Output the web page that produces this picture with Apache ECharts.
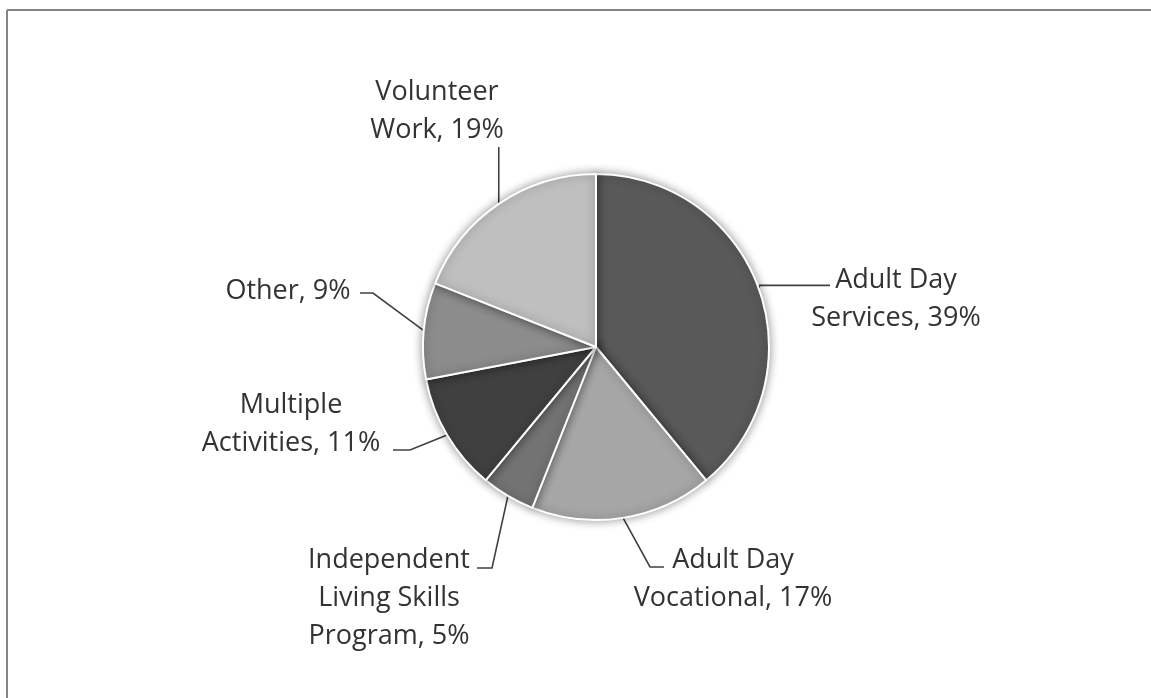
<!DOCTYPE html>
<html>
<head>
<meta charset="utf-8">
<script src="https://cdn.jsdelivr.net/npm/echarts@6/dist/echarts.min.js"></script>
<style>
html,body{margin:0;padding:0;background:#fff;}
#chart{width:1151px;height:698px;}
</style>
</head>
<body>
<div id="chart"></div>
<script>
// ---- data ----
const categories = ['Adult Day Services', 'Adult Day Vocational', 'Independent Living Skills Program', 'Multiple Activities', 'Other', 'Volunteer Work'];
const values = [39, 17, 5, 11, 9, 19];
const labelTexts = ['Adult Day\nServices, 39%', 'Adult Day\nVocational, 17%', 'Independent\nLiving Skills\nProgram, 5%', 'Multiple\nActivities, 11%', 'Other, 9%', 'Volunteer\nWork, 19%'];
const colors = ['#595959', '#a6a6a6', '#737373', '#404040', '#8c8c8c', '#bfbfbf'];

// ---- label layout (positions only) ----
const labelPos = [
  {x: 896, y: 299, pts: [['e', 284], [830, 284]]},
  {x: 733, y: 579, pts: [[650, 567], [664, 567]]},
  {x: 389, y: 598, pts: [[492, 568], [477, 568]]},
  {x: 291, y: 424, pts: [[410, 450], [393, 450]]},
  {x: 288, y: 291, pts: [[373, 293], [360, 293]]},
  {x: 437, y: 111, pts: [['e', 175], ['e', 147]]}
];

const chart = echarts.init(document.getElementById('chart'), null, {renderer: 'canvas'});
chart.setOption({
  backgroundColor: '#ffffff',
  animation: false,
  graphic: [
    {type: 'line', shape: {x1: 7, y1: 10, x2: 1151, y2: 10}, style: {stroke: '#858585', lineWidth: 2}},
    {type: 'line', shape: {x1: 7, y1: 10, x2: 7, y2: 698}, style: {stroke: '#858585', lineWidth: 2}}
  ],
  series: [{
    type: 'pie',
    center: [596, 347],
    radius: 173,
    startAngle: 90,
    clockwise: true,
    avoidLabelOverlap: false,
    data: categories.map((c, i) => ({name: c, value: values[i], itemStyle: {color: colors[i]}})),
    itemStyle: {borderColor: '#ffffff', borderWidth: 2, shadowBlur: 10, shadowColor: 'rgba(0,0,0,0.4)'},
    label: {
      show: true,
      position: 'outside',
      formatter: p => labelTexts[p.dataIndex],
      fontFamily: 'Open Sans',
      fontSize: 27,
      lineHeight: 38,
      color: '#333333',
      align: 'center'
    },
    labelLine: {show: true, length: 10, length2: 10, smooth: false, lineStyle: {color: '#404040', width: 1.6}},
    labelLayout: function (params) {
      const lp = labelPos[params.dataIndex];
      const start = params.labelLinePoints ? params.labelLinePoints[0] : null;
      let pts = null;
      if (start) {
        pts = [[start[0], start[1]]];
        lp.pts.forEach(p => {
          pts.push([p[0] === 'e' ? start[0] : p[0], p[1]]);
        });
        if (params.dataIndex === 0) { pts[1] = [pts[1][0] + 1, start[1] - 3]; pts[2] = [830, start[1] - 3]; }
        if (params.dataIndex === 5) { pts[1] = [start[0], start[1]]; }
      }
      return {x: lp.x, y: lp.y, align: 'center', verticalAlign: 'middle', labelLinePoints: pts};
    }
  }]
});
</script>
</body>
</html>
